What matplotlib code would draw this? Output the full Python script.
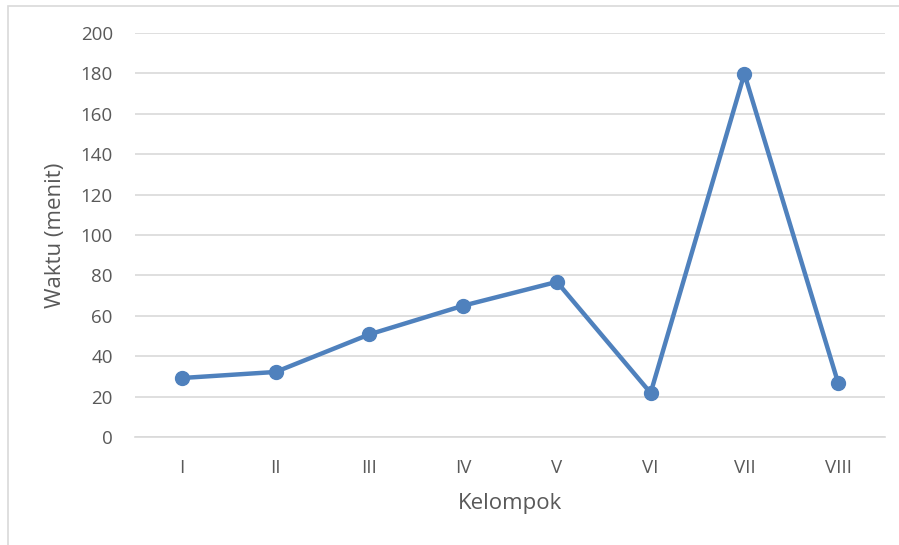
import matplotlib
matplotlib.use("Agg")
import matplotlib.pyplot as plt
from matplotlib.patches import Rectangle

kelompok = ['I', 'II', 'III', 'IV', 'V', 'VI', 'VII', 'VIII']
waktu = [29.2, 32.2, 50.8, 65.0, 76.8, 21.8, 179.8, 26.8]
yticks = [0, 20, 40, 60, 80, 100, 120, 140, 160, 180, 200]

plt.rcParams['font.family'] = ['Open Sans', 'DejaVu Sans']

fig = plt.figure(figsize=(8.99, 5.45), dpi=100)
ax = fig.add_axes([135/899, 1-437/545, 750/899, (437-33)/545])

# chart border (only left and top visible in the reference)
fig.patches.append(Rectangle((8/899, -0.1), 1.2, 1-6/545+0.1, transform=fig.transFigure,
                             fill=False, edgecolor='#D9D9D9', linewidth=1.2))

x = list(range(len(kelompok)))
ax.plot(x, waktu, color='#4F81BD', linewidth=3.2, marker='o', markersize=10,
        solid_joinstyle='round', zorder=3)

ax.set_xlim(-0.5, len(kelompok) - 0.5)
ax.set_ylim(0, 200)
ax.set_yticks(yticks)
ax.set_xticks(x)
ax.set_xticklabels(kelompok)
ax.grid(axis='y', color='#D9D9D9', linewidth=1.2)
ax.set_axisbelow(True)
for s in ['top', 'right', 'left']:
    ax.spines[s].set_visible(False)
ax.spines['bottom'].set_color('#D9D9D9')
ax.spines['bottom'].set_linewidth(1.2)
ax.tick_params(length=0, labelsize=13.5, labelcolor='#595959')
ax.tick_params(axis='y', pad=16)
ax.tick_params(axis='x', pad=16)
ax.set_xlabel('Kelompok', fontsize=16, color='#595959', va='center')
ax.set_ylabel('Waktu (menit)', fontsize=16, color='#595959', va='center')
ax.xaxis.set_label_coords(0.5, (437-503)/404)
ax.yaxis.set_label_coords((56-135)/750, 0.5)

fig.savefig('out.png', dpi=100)
